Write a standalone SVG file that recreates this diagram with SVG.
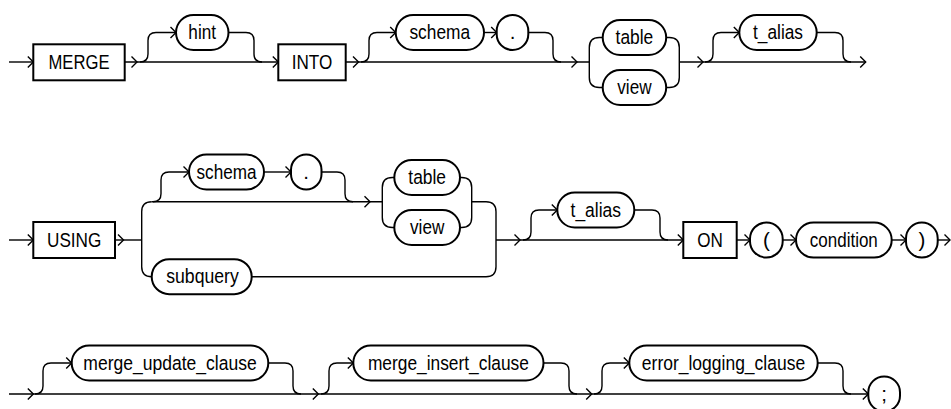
<svg xmlns="http://www.w3.org/2000/svg" xmlns:xlink="http://www.w3.org/1999/xlink" width="951" height="409" viewBox="0 0 951 409">
<style>
.ln{fill:none;stroke:#000;stroke-width:1.4}
.bx{fill:#fff;stroke:#000;stroke-width:2}
.t{font-family:"Liberation Sans",Arial,sans-serif;font-size:20.5px;text-anchor:middle;fill:#000}
</style>
<defs>
<path id="a" d="M-5.5,-5.5 L0,0 L-5.5,5.5" fill="none"/>
</defs>
<rect width="951" height="409" fill="#fff"/>
<g id="connectors" class="ln">
<path d="M9,62 H33.3"/>
<use href="#a" x="33.3" y="62"/>
<path d="M124.7,62 H278.3"/>
<use href="#a" x="137" y="62"/>
<use href="#a" x="278.3" y="62"/>
<path d="M140,62 Q148,62 148,54 V40.5 Q148,32.5 156,32.5 H176"/>
<use href="#a" x="176" y="32.5"/>
<path d="M228.5,32.5 H246 Q254,32.5 254,40.5 V54 Q254,62 262,62"/>
<path d="M345.7,62 H589.3"/>
<use href="#a" x="358.5" y="62"/>
<use href="#a" x="577" y="62"/>
<path d="M361,62 Q369,62 369,54 V40.5 Q369,32.5 377,32.5 H395.7"/>
<use href="#a" x="395.7" y="32.5"/>
<path d="M484,32.5 H496.7"/>
<use href="#a" x="496.7" y="32.5"/>
<path d="M528.3,32.5 H545 Q553,32.5 553,40.5 V54 Q553,62 561,62"/>
<path d="M602.7,37.5 H599.3 Q589.3,37.5 589.3,47.5 V77.5 Q589.3,87.5 599.3,87.5 H602.7"/>
<path d="M666,37.5 H669.3 Q679.3,37.5 679.3,47.5 V77.5 Q679.3,87.5 669.3,87.5 H666"/>
<path d="M679.3,62 H865.7"/>
<use href="#a" x="703" y="62"/>
<use href="#a" x="865.7" y="62"/>
<path d="M705,62 Q713,62 713,54 V40.5 Q713,32.5 721,32.5 H739.3"/>
<use href="#a" x="739.3" y="32.5"/>
<path d="M816.7,32.5 H835 Q843,32.5 843,40.5 V54 Q843,62 851,62"/>
<path d="M9,240 H33.3"/>
<use href="#a" x="33.3" y="240"/>
<path d="M115,240 H141.7"/>
<use href="#a" x="123.5" y="240"/>
<path d="M151.7,201.7 Q141.7,201.7 141.7,211.7 V266.7 Q141.7,276.7 151.7,276.7"/>
<path d="M151.7,201.7 H382.3"/>
<use href="#a" x="370" y="201.7"/>
<path d="M153,201.7 Q161,201.7 161,193.7 V180 Q161,172 169,172 H189"/>
<use href="#a" x="189" y="172"/>
<path d="M264,172 H291"/>
<use href="#a" x="291" y="172"/>
<path d="M321.5,172 H337 Q345,172 345,180 V193.7 Q345,201.7 353,201.7"/>
<path d="M394.3,177.5 H392.3 Q382.3,177.5 382.3,187.5 V217.5 Q382.3,227.5 392.3,227.5 H394.3"/>
<path d="M460,177.5 H461.7 Q471.7,177.5 471.7,187.5 V217.5 Q471.7,227.5 461.7,227.5 H460"/>
<path d="M471.7,201.7 H486 Q496,201.7 496,211.7 V266.7 Q496,276.7 486,276.7 H251.7"/>
<path d="M496,240 H683.3"/>
<use href="#a" x="520" y="240"/>
<use href="#a" x="683.3" y="240"/>
<path d="M523,240 Q531,240 531,232 V218 Q531,210 539,210 H557.3"/>
<use href="#a" x="557.3" y="210"/>
<path d="M634.3,210 H652 Q660,210 660,218 V232 Q660,240 668,240"/>
<path d="M736.7,240 H750"/>
<use href="#a" x="750" y="240"/>
<path d="M782.7,240 H796"/>
<use href="#a" x="796" y="240"/>
<path d="M891.7,240 H906"/>
<use href="#a" x="906" y="240"/>
<path d="M937.7,240 H950"/>
<use href="#a" x="950" y="240"/>
<path d="M9,394 H868.3"/>
<use href="#a" x="33.3" y="394"/>
<use href="#a" x="318.3" y="394"/>
<use href="#a" x="591.7" y="394"/>
<use href="#a" x="868.3" y="394"/>
<path d="M35,394 Q43,394 43,386 V371 Q43,363 51,363 H71.7"/>
<use href="#a" x="71.7" y="363"/>
<path d="M268.3,363 H285 Q293,363 293,371 V386 Q293,394 301,394"/>
<path d="M321,394 Q329,394 329,386 V371 Q329,363 337,363 H353.3"/>
<use href="#a" x="353.3" y="363"/>
<path d="M543.5,363 H561 Q569,363 569,371 V386 Q569,394 577,394"/>
<path d="M594,394 Q602,394 602,386 V371 Q602,363 610,363 H629.3"/>
<use href="#a" x="629.3" y="363"/>
<path d="M817.7,363 H835 Q843,363 843,371 V386 Q843,394 851,394"/>
</g>
<g id="n-merge"><rect class="bx" x="33.3" y="44.3" width="91.4" height="36"/><text class="t" x="79" y="69.3" textLength="61" lengthAdjust="spacingAndGlyphs">MERGE</text></g>
<g id="n-hint"><rect class="bx" x="176" y="15" width="52.5" height="35" rx="17.5"/><text class="t" x="202.2" y="39" textLength="27.7" lengthAdjust="spacingAndGlyphs">hint</text></g>
<g id="n-into"><rect class="bx" x="278.3" y="44.3" width="67.4" height="36"/><text class="t" x="312" y="69.3" textLength="40.6" lengthAdjust="spacingAndGlyphs">INTO</text></g>
<g id="n-schema1"><rect class="bx" x="395.7" y="15" width="88.3" height="35" rx="17.5"/><text class="t" x="439.8" y="39" textLength="60.7" lengthAdjust="spacingAndGlyphs">schema</text></g>
<g id="n-dot1"><rect class="bx" x="496.7" y="15" width="31.6" height="35" rx="15.8"/><text class="t" x="512.5" y="39">.</text></g>
<g id="n-table1"><rect class="bx" x="602.7" y="20" width="63.5" height="35" rx="17.5"/><text class="t" x="634.4" y="44" textLength="37.7" lengthAdjust="spacingAndGlyphs">table</text></g>
<g id="n-view1"><rect class="bx" x="602.7" y="70" width="63.5" height="35" rx="17.5"/><text class="t" x="634.4" y="94" textLength="34.3" lengthAdjust="spacingAndGlyphs">view</text></g>
<g id="n-talias1"><rect class="bx" x="739.3" y="15" width="77.4" height="35" rx="17.5"/><text class="t" x="778" y="39" textLength="50" lengthAdjust="spacingAndGlyphs">t_alias</text></g>
<g id="n-using"><rect class="bx" x="33.3" y="222" width="81.7" height="36"/><text class="t" x="74.2" y="247" textLength="54.4" lengthAdjust="spacingAndGlyphs">USING</text></g>
<g id="n-schema2"><rect class="bx" x="189" y="154.5" width="75" height="35" rx="17.5"/><text class="t" x="226.5" y="178.5" textLength="60" lengthAdjust="spacingAndGlyphs">schema</text></g>
<g id="n-dot2"><rect class="bx" x="291" y="154.5" width="30.5" height="35" rx="15.25"/><text class="t" x="306.2" y="178.5">.</text></g>
<g id="n-table2"><rect class="bx" x="394.3" y="160" width="65.7" height="35" rx="17.5"/><text class="t" x="427.2" y="184" textLength="37.7" lengthAdjust="spacingAndGlyphs">table</text></g>
<g id="n-view2"><rect class="bx" x="394.3" y="210" width="65.7" height="35" rx="17.5"/><text class="t" x="427.2" y="234" textLength="34.3" lengthAdjust="spacingAndGlyphs">view</text></g>
<g id="n-subquery"><rect class="bx" x="151.7" y="259.2" width="100" height="35" rx="17.5"/><text class="t" x="202.5" y="283.2" textLength="72.6" lengthAdjust="spacingAndGlyphs">subquery</text></g>
<g id="n-talias2"><rect class="bx" x="557.3" y="192.5" width="77" height="35" rx="17.5"/><text class="t" x="595.8" y="216.5" textLength="50.5" lengthAdjust="spacingAndGlyphs">t_alias</text></g>
<g id="n-on"><rect class="bx" x="683.3" y="222" width="53.4" height="36"/><text class="t" x="710" y="247" textLength="25.6" lengthAdjust="spacingAndGlyphs">ON</text></g>
<g id="n-lparen"><rect class="bx" x="750" y="222.5" width="32.7" height="35" rx="16.35"/><text class="t" x="766.3" y="246.5">(</text></g>
<g id="n-condition"><rect class="bx" x="796" y="222.5" width="95.7" height="35" rx="17.5"/><text class="t" x="843.8" y="246.5" textLength="68" lengthAdjust="spacingAndGlyphs">condition</text></g>
<g id="n-rparen"><rect class="bx" x="906" y="222.5" width="31.7" height="35" rx="15.85"/><text class="t" x="921.8" y="246.5">)</text></g>
<g id="n-update"><rect class="bx" x="71.7" y="345.5" width="196.6" height="35" rx="17.5"/><text class="t" x="170" y="369.5" textLength="173.4" lengthAdjust="spacingAndGlyphs">merge_update_clause</text></g>
<g id="n-insert"><rect class="bx" x="353.3" y="345.5" width="190.2" height="35" rx="17.5"/><text class="t" x="448.4" y="369.5" textLength="161" lengthAdjust="spacingAndGlyphs">merge_insert_clause</text></g>
<g id="n-errlog"><rect class="bx" x="629.3" y="345.5" width="188.4" height="35" rx="17.5"/><text class="t" x="723.5" y="369.5" textLength="163.3" lengthAdjust="spacingAndGlyphs">error_logging_clause</text></g>
<g id="n-semi"><rect class="bx" x="868.3" y="376.5" width="31.7" height="35" rx="15.85"/><text class="t" x="884.2" y="400.5">;</text></g>
</svg>
